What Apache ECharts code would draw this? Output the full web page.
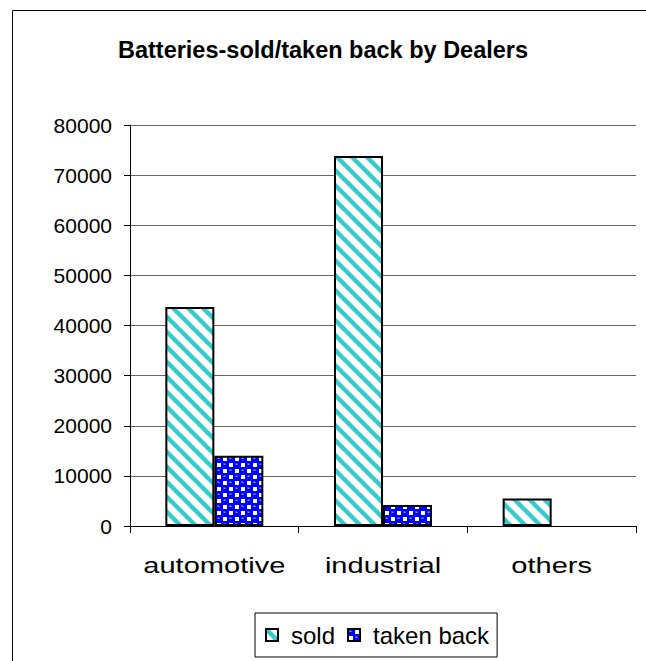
<!DOCTYPE html>
<html>
<head>
<meta charset="utf-8">
<script src="https://cdn.jsdelivr.net/npm/echarts@6/dist/echarts.min.js"></script>
<style>
  html, body { margin: 0; padding: 0; background: #fff; }
  #chart { width: 646px; height: 661px; }
</style>
</head>
<body>
<div id="chart"></div>
<script>
// Battery counts per dealer segment
const categories = ['automotive', 'industrial', 'others'];
const soldValues = [43700, 73800, 5500];
const takenBackValues = [14000, 4200, 0];
const seriesNames = ['sold', 'taken back'];
const yTicks = { min: 0, max: 80000, interval: 10000 };

const FONT = "'Liberation Sans', Arial, sans-serif";

// Diagonal teal stripes on white
function stripePattern() {
  const s = 15;
  const c = document.createElement('canvas');
  c.width = s; c.height = s;
  const g = c.getContext('2d');
  g.fillStyle = '#ffffff';
  g.fillRect(0, 0, s, s);
  g.strokeStyle = '#33CCCC';
  g.lineWidth = 4.4;
  for (let k = -1; k <= 1; k++) {
    g.beginPath();
    g.moveTo(k * s - 3, -3);
    g.lineTo(k * s + s + 3, s + 3);
    g.stroke();
  }
  return c;
}

// Blue spheres checkered with white squares
function checkerPattern() {
  const s = 12, h = 6;
  const c = document.createElement('canvas');
  c.width = s; c.height = s;
  const g = c.getContext('2d');
  g.fillStyle = '#0000FF';
  g.fillRect(0, 0, s, s);
  g.fillStyle = '#ffffff';
  g.fillRect(h + 1, 1, 4, 4);
  g.fillRect(1, h + 1, 4, 4);
  g.fillStyle = '#8c96ff';
  g.fillRect(1.5, 1.5, 2, 1.5);
  g.fillRect(h + 1.5, h + 1.5, 2, 1.5);
  return c;
}

const stripes = stripePattern();
const checks = checkerPattern();

const chart = echarts.init(document.getElementById('chart'), null, { renderer: 'svg' });

const option = {
  backgroundColor: '#ffffff',
  animation: false,
  title: {
    text: 'Batteries-sold/taken back by Dealers',
    left: 'center',
    top: 33,
    textStyle: { fontFamily: FONT, fontSize: 23.5, fontWeight: 'bold', color: '#000' }
  },
  graphic: [{
    type: 'rect',
    shape: { x: 12.5, y: 10.5, width: 700, height: 700 },
    style: { fill: 'none', stroke: '#000', lineWidth: 1 },
    silent: true,
    z: -1
  }],
  legend: {
    data: seriesNames,
    left: 255,
    top: 613,
    orient: 'horizontal',
    itemWidth: 12,
    itemHeight: 12,
    itemGap: 12,
    padding: [10, 8, 10, 10],
    borderColor: '#000',
    borderWidth: 1,
    icon: 'rect',
    textStyle: { fontFamily: FONT, fontSize: 24, color: '#000', padding: [0, 0, 0, 8] }
  },
  grid: { left: 130, right: 10, top: 125, bottom: 135, containLabel: false },
  xAxis: {
    type: 'category',
    data: categories,
    axisLine: { lineStyle: { color: '#000', width: 1 } },
    axisTick: { show: true, length: 7, lineStyle: { color: '#000' } },
    axisLabel: { fontFamily: FONT, fontSize: 22, color: '#000', margin: 28 }
  },
  yAxis: {
    type: 'value',
    min: yTicks.min,
    max: yTicks.max,
    interval: yTicks.interval,
    axisLine: { show: true, lineStyle: { color: '#000', width: 1 } },
    axisTick: { show: true, length: 6, lineStyle: { color: '#000' } },
    axisLabel: {
      fontFamily: FONT, fontSize: 21, color: '#000', margin: 18,
      formatter: v => String(v)
    },
    splitLine: { show: true, lineStyle: { color: '#666666', width: 1 } }
  },
  series: [
    {
      name: seriesNames[0],
      type: 'bar',
      data: soldValues,
      barWidth: 49,
      barGap: '0%',
      itemStyle: {
        color: { image: stripes, imageWidth: stripes.width, imageHeight: stripes.height, repeat: 'repeat' },
        borderColor: '#000',
        borderWidth: 2
      }
    },
    {
      name: seriesNames[1],
      type: 'bar',
      // a zero count leaves no visible bar
      data: takenBackValues.map(v => v === 0 ? { value: v, itemStyle: { borderWidth: 0 } } : v),
      barWidth: 49,
      barGap: '0%',
      itemStyle: {
        color: { image: checks, imageWidth: checks.width, imageHeight: checks.height, repeat: 'repeat' },
        borderColor: '#000',
        borderWidth: 2
      }
    }
  ]
};

// Category names use a wide, horizontally stretched face
const CATEGORY_STRETCH = 1.32;
function stretchCategoryLabels() {
  document.querySelectorAll('#chart svg text').forEach(t => {
    if (categories.includes(t.textContent) && !t.hasAttribute('textLength')) {
      const w = t.getComputedTextLength();
      t.setAttribute('lengthAdjust', 'spacingAndGlyphs');
      t.setAttribute('textLength', (w * CATEGORY_STRETCH).toFixed(1));
    }
  });
}

chart.on('finished', stretchCategoryLabels);
chart.setOption(option);
stretchCategoryLabels();
</script>
</body>
</html>
